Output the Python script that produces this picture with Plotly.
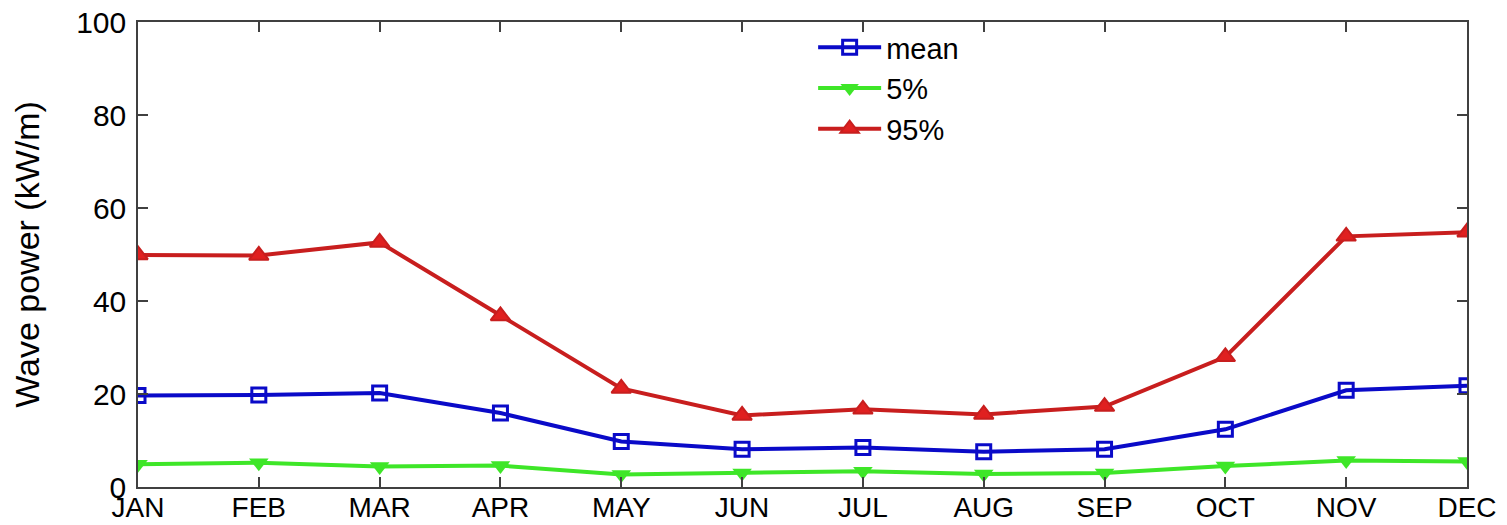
import plotly.graph_objects as go

months = ["JAN", "FEB", "MAR", "APR", "MAY", "JUN", "JUL", "AUG", "SEP", "OCT", "NOV", "DEC"]
mean_vals = [19.7, 19.8, 20.2, 15.9, 9.8, 8.1, 8.5, 7.6, 8.1, 12.4, 20.8, 21.8]
p5_vals = [4.9, 5.2, 4.4, 4.6, 2.7, 3.0, 3.4, 2.8, 3.0, 4.5, 5.7, 5.5]
p95_vals = [49.9, 49.8, 52.6, 36.8, 21.2, 15.4, 16.7, 15.6, 17.3, 28.0, 53.9, 54.8]
y_ticks = [0, 20, 40, 60, 80, 100]

font_family = "Liberation Sans, Arial, sans-serif"

fig = go.Figure()
fig.add_trace(go.Scatter(
    x=months, y=mean_vals, name="mean", mode="lines+markers",
    line=dict(color="#0a0ac8", width=4),
    marker=dict(symbol="square-open", size=14, color="#0a0ac8", line=dict(width=3, color="#0a0ac8")),
))
fig.add_trace(go.Scatter(
    x=months, y=p5_vals, name="5%", mode="lines+markers",
    line=dict(color="#3ee628", width=4),
    marker=dict(symbol="triangle-down", size=17, color="#3ee628"),
))
fig.add_trace(go.Scatter(
    x=months, y=p95_vals, name="95%", mode="lines+markers",
    line=dict(color="#c81e1e", width=4),
    marker=dict(symbol="triangle-up", size=17, color="#e02020", line=dict(width=2, color="#c81e1e")),
))

# The page adds an 8px body margin, so the figure is 8px smaller and shifted.
fig.update_layout(
    width=1499, height=517,
    margin=dict(l=130, r=40, t=14, b=38, autoexpand=False),
    paper_bgcolor="white", plot_bgcolor="white",
    font=dict(family=font_family, size=28, color="black"),
    showlegend=True,
    legend=dict(
        x=0.508, y=1.0, xanchor="left", yanchor="top",
        bgcolor="rgba(0,0,0,0)", borderwidth=0,
        font=dict(size=29, family=font_family, color="black"),
        tracegroupgap=0, itemwidth=63,
    ),
    xaxis=dict(
        type="category", categoryorder="array", categoryarray=months,
        range=[0, 11], showline=True, linecolor="#404040", linewidth=1.5, mirror="ticks",
        ticks="inside", ticklen=10, tickcolor="#404040", tickwidth=1.5,
        showgrid=False, zeroline=False, automargin=False, ticklabelstandoff=-5,
        tickfont=dict(size=28, family=font_family),
    ),
    yaxis=dict(
        range=[0, 100], tickvals=y_ticks, showline=True, linecolor="#404040", linewidth=1.5,
        mirror="ticks", ticks="inside", ticklen=10, tickcolor="#404040", tickwidth=1.5,
        showgrid=False, zeroline=False, automargin=False, ticklabelstandoff=4,
        ticklabeloverflow="allow",
        tickfont=dict(size=30, family=font_family),
        title=dict(text="Wave power (kW/m)", font=dict(size=34, family=font_family), standoff=36),
    ),
)

fig.write_html("out.html")
